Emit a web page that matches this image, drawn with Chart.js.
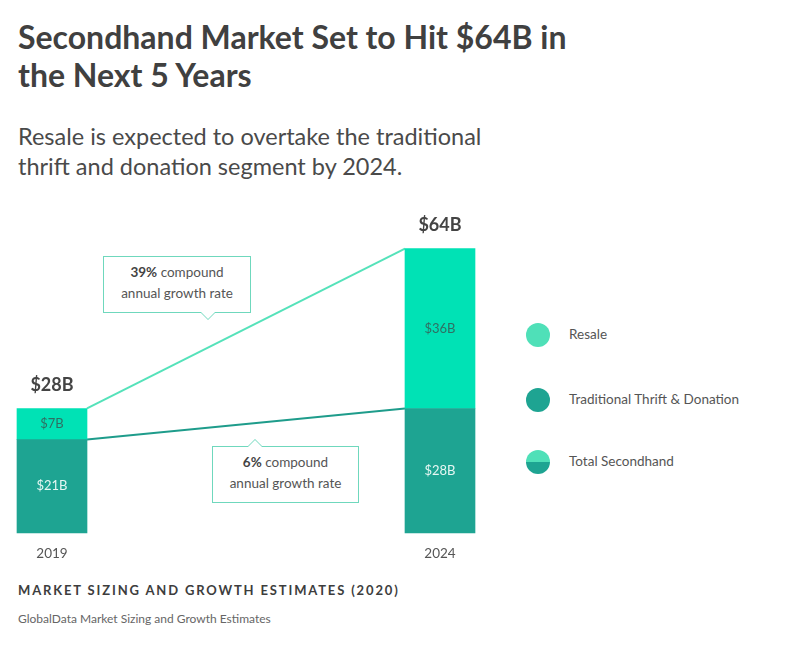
<!DOCTYPE html>
<html>
<head>
<meta charset="utf-8">
<script src="https://cdn.jsdelivr.net/npm/chart.js@4.4.1/dist/chart.umd.min.js"></script>
<style>
  body { margin: 0; background: #fff; font-family: Lato, "Open Sans", sans-serif; color: #444; }
  .wrap { position: relative; width: 796px; height: 649px; overflow: hidden; }
  h1 { position: absolute; left: 18px; top: 18px; margin: 0; font-size: 32px; line-height: 38px; font-weight: 700; color: #404040; width: 575px; }
  .sub { position: absolute; left: 18px; top: 121px; margin: 0; font-size: 23.5px; line-height: 30px; color: #4a4a4a; width: 500px; }
  #chartBox { position: absolute; left: 0; top: 200px; width: 492px; height: 367px; }
  .legend { position: absolute; left: 526px; top: 0; }
  .legend .item { position: absolute; left: 0; width: 240px; height: 24px; font-size: 13.5px; color: #555; }
  .legend .dot { position: absolute; left: 0; top: 0; width: 24px; height: 24px; border-radius: 50%; }
  .legend span { position: absolute; left: 43px; top: 3px; white-space: nowrap; }
  .callout { position: absolute; border: 1px solid #6fd8bd; background: #fff; font-size: 13.5px; line-height: 21px; color: #555; text-align: center; box-sizing: border-box; padding-top: 5px; }
  .callout b { color: #444; }
  .callout:after, .callout:before { content: ""; position: absolute; width: 0; height: 0; border: solid transparent; }
  .callout.down:before { top: 100%; left: 104px; border-width: 8px; border-top-color: #6fd8bd; margin-left: -8px; }
  .callout.down:after { top: 100%; left: 104px; border-width: 7px; border-top-color: #fff; margin-left: -7px; }
  .callout.up:before { bottom: 100%; left: 42px; border-width: 8px; border-bottom-color: #6fd8bd; margin-left: -8px; }
  .callout.up:after { bottom: 100%; left: 42px; border-width: 7px; border-bottom-color: #fff; margin-left: -7px; }
  .foot { position: absolute; left: 18px; top: 582px; font-size: 13px; font-weight: 700; letter-spacing: 1.85px; color: #3d3d3d; }
  .src { position: absolute; left: 18px; top: 611px; font-size: 12px; color: #666; }
</style>
</head>
<body>
<div class="wrap">
  <h1>Secondhand Market Set to Hit $64B in the Next 5 Years</h1>
  <p class="sub">Resale is expected to overtake the traditional thrift and donation segment by 2024.</p>
  <div id="chartBox"><canvas id="myChart"></canvas></div>
  <div class="callout down" style="left:103px;top:256px;width:148px;height:57px;"><b>39%</b> compound<br>annual growth rate</div>
  <div class="callout up" style="left:212px;top:446px;width:147px;height:57px;"><b>6%</b> compound<br>annual growth rate</div>
  <div class="legend" id="legend"></div>
  <div class="foot">MARKET SIZING AND GROWTH ESTIMATES (2020)</div>
  <div class="src">GlobalData Market Sizing and Growth Estimates</div>
</div>
<script>
// du lieu
const years = ['2019', '2024'];
const traditional = [21, 28];
const resale = [7, 36];
const totals = [28, 64];

const colResale = '#00e2b5';
const colTrad = '#1ea492';
const lineResale = '#55e2ba';
const lineTrad = '#1e9c8b';

// ve duong noi giua 2 cot + nhan gia tri
const barExtras = {
  id: 'barExtras',
  beforeDatasetsDraw(chart) {
    const ctx = chart.ctx;
    const lineCols = [lineTrad, lineResale];
    chart.data.datasets.forEach((ds, i) => {
      const bars = chart.getDatasetMeta(i).data;
      const a = bars[0], b = bars[1];
      ctx.save();
      ctx.strokeStyle = lineCols[i];
      ctx.lineWidth = 2;
      ctx.beginPath();
      ctx.moveTo(a.x + a.width / 2, a.y);
      ctx.lineTo(b.x - b.width / 2, b.y);
      ctx.stroke();
      ctx.restore();
    });
  },
  afterDatasetsDraw(chart) {
    const ctx = chart.ctx;
    const txtCols = ['#e6f7f3', '#2f6f63'];
    ctx.save();
    ctx.textAlign = 'center';
    ctx.textBaseline = 'middle';
    chart.data.datasets.forEach((ds, i) => {
      chart.getDatasetMeta(i).data.forEach((bar, j) => {
        ctx.font = '13px Lato, sans-serif';
        ctx.fillStyle = txtCols[i];
        ctx.fillText('$' + ds.data[j] + 'B', bar.x, (bar.y + bar.base) / 2);
      });
    });
    // tong
    const top = chart.getDatasetMeta(1).data;
    ctx.font = 'bold 18px Lato, sans-serif';
    ctx.fillStyle = '#444';
    top.forEach((bar, j) => {
      ctx.fillText('$' + totals[j] + 'B', bar.x, bar.y - 23);
    });
    ctx.restore();
  }
};

const ctx = document.getElementById('myChart').getContext('2d');
const myChart = new Chart(ctx, {
  type: 'bar',
  data: {
    labels: years,
    datasets: [
      { label: 'Traditional Thrift & Donation', data: traditional, backgroundColor: colTrad, barThickness: 70, clip: false },
      { label: 'Resale', data: resale, backgroundColor: colResale, barThickness: 70, clip: false }
    ]
  },
  options: {
    responsive: true,
    maintainAspectRatio: false,
    animation: false,
    layout: { padding: { left: 52, right: 52, top: 22, bottom: 0 } },
    plugins: { legend: { display: false }, tooltip: { enabled: false } },
    scales: {
      x: {
        stacked: true,
        offset: false,
        grid: { display: false },
        border: { display: false },
        ticks: { padding: 5, color: '#555', font: { family: 'Lato', size: 13.5 } }
      },
      y: {
        stacked: true,
        display: false,
        min: 0,
        max: 70
      }
    }
  },
  plugins: [barExtras]
});

// chu thich ben phai
const legendItems = [
  { text: 'Resale', bg: '#4fe0b8', y: 323 },
  { text: 'Traditional Thrift & Donation', bg: colTrad, y: 388 },
  { text: 'Total Secondhand', bg: 'linear-gradient(#4fe0b8 0 50%, ' + colTrad + ' 50% 100%)', y: 450 }
];
let html = '';
legendItems.forEach((it) => {
  html += `<div class="item" style="top:${it.y}px"><div class="dot" style="background:${it.bg}"></div><span>${it.text}</span></div>`;
});
document.getElementById('legend').innerHTML = html;
</script>
</body>
</html>
